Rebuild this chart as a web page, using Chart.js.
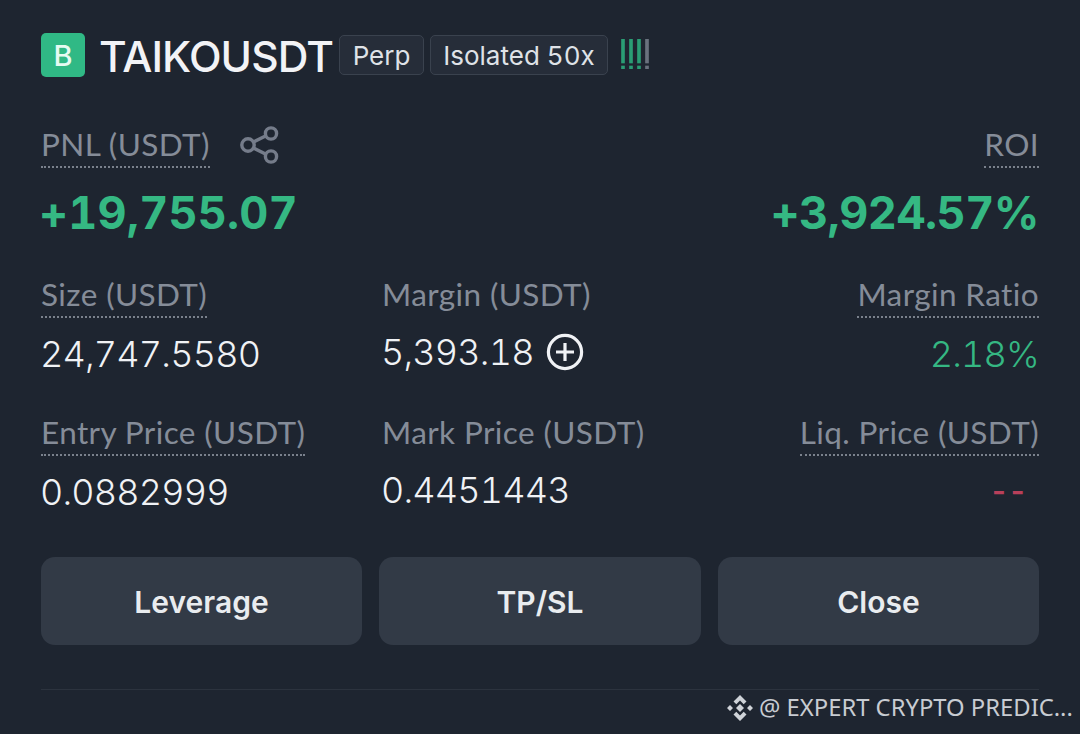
<!DOCTYPE html>
<html><head><meta charset="utf-8">
<script src="https://cdn.jsdelivr.net/npm/chart.js@4"></script>
<style>
html,body{margin:0;padding:0;width:1080px;height:734px;overflow:hidden;background:#1e2530;font-family:Inter,"Noto Sans",sans-serif;font-feature-settings:"tnum" 1}
.t{position:absolute;white-space:nowrap;line-height:1}
.lab{color:#858c98;font-size:31.500px;font-family:Lato,Inter,sans-serif;font-weight:400;letter-spacing:.4px;padding-bottom:5px;border-bottom:2px dotted #7a818c}
.val{color:#f0f2f5;font-size:36px;font-weight:300;letter-spacing:-.8px}
.box{position:absolute;box-sizing:border-box}
.btn{position:absolute;top:557px;height:88px;padding-top:2px;box-sizing:border-box;background:#323a46;border-radius:14px;color:#e9ecef;font-size:30px;font-weight:600;display:flex;align-items:center;justify-content:center}
.tag{position:absolute;top:35px;height:40px;box-sizing:border-box;background:#262d39;border:1px solid #3a424e;border-radius:5px;color:#dfe2e7;font-size:26px;display:flex;align-items:center;justify-content:center}
</style></head><body>
<div class="box" style="left:41px;top:33px;width:44px;height:44px;background:#30b985;border-radius:5px;color:#e6fbf2;font-size:29px;font-weight:500;display:flex;align-items:center;justify-content:center" id="side"></div>
<div class="t" id="sym" style="left:99px;top:36px;font-size:42.500px;font-weight:500;color:#f2f3f6;letter-spacing:-.9px"></div>
<div class="tag" id="tag0" style="left:339px;width:85px"></div>
<div class="tag" id="tag1" style="left:430px;width:178px"></div>
<div class="box" style="left:619px;top:39px;width:32px;height:30px"><canvas id="adl" width="32" height="30"></canvas></div>

<div class="t lab" id="pnlL" style="left:41px;top:129px"></div>
<svg class="box" style="left:239px;top:126px" width="40" height="38" viewBox="0 0 40 38" fill="none" stroke="#757c8a" stroke-width="3.4"><circle cx="9" cy="19" r="6.2"/><circle cx="32" cy="7.5" r="5.6"/><circle cx="32" cy="30.5" r="5.6"/><path d="M14.5 16 L27 9.8 M14.5 22 L27 28.2"/></svg>
<div class="t lab" id="roiL" style="right:41px;top:129px"></div>
<div class="t" id="pnl" style="left:39px;top:190px;font-size:45px;font-weight:700;color:#35b883;letter-spacing:.2px"></div>
<div class="t" id="roi" style="right:41px;top:190px;font-size:45px;font-weight:700;color:#35b883;letter-spacing:-.5px"></div>

<div class="t lab" id="l0" style="left:41px;top:279px"></div>
<div class="t lab" id="l1" style="left:382px;top:279px;border-bottom:0"></div>
<div class="t lab" id="l2" style="right:41px;top:279px"></div>
<div class="t val" id="v0" style="left:40px;top:336px"></div>
<div class="t val" id="v1" style="left:381px;top:334px"></div>
<svg class="box" style="left:546px;top:333px" width="38" height="38" fill="none" stroke="#f0f2f5" stroke-width="3.2"><circle cx="19" cy="19" r="16.6"/><path d="M10 19H28M19 10V28"/></svg>
<div class="t val" id="v2" style="right:41px;top:336px;color:#35b883"></div>

<div class="t lab" id="l3" style="left:41px;top:417px"></div>
<div class="t lab" id="l4" style="left:382px;top:417px;border-bottom:0"></div>
<div class="t lab" id="l5" style="right:41px;top:417px"></div>
<div class="t val" id="v3" style="left:40px;top:474px"></div>
<div class="t val" id="v4" style="left:381px;top:472px"></div>
<div class="t val" id="v5" style="right:53px;top:476px;color:#b8405a;font-size:30px;font-weight:600;letter-spacing:-.5px"></div>

<div class="btn" id="b0" style="left:41px;width:321px"></div>
<div class="btn" id="b1" style="left:379px;width:322px"></div>
<div class="btn" id="b2" style="left:718px;width:321px"></div>

<div class="box" style="left:41px;top:689px;width:998px;height:1px;background:#2c333e"></div>
<svg class="box" style="left:726px;top:694px" width="28" height="28" viewBox="0 0 28 28" fill="#cfd3d8"><path d="M14 1l6.500 6.500-2.800 2.800L14 6.600l-3.700 3.700-2.800-2.800zM14 27l-6.500-6.500 2.800-2.800 3.700 3.700 3.700-3.700 2.800 2.800zM1 14l3-3 3 3-3 3zM21 14l3-3 3 3-3 3zM14 10l4 4-4 4-4-4z"/></svg>
<div class="t" id="mark" style="left:759px;top:696px;font-size:23.800px;font-family:'Noto Sans',sans-serif;color:#c8ccd2"></div>

<script>
const symbol="TAIKOUSDT", sideLetter="B";
const tags=["Perp","Isolated 50x"];
const pnlLabel="PNL (USDT)", roiLabel="ROI";
const pnlValue="+19,755.07", roiValue="+3,924.57%";
const fieldLabels=["Size (USDT)","Margin (USDT)","Margin Ratio","Entry Price (USDT)","Mark Price (USDT)","Liq. Price (USDT)"];
const fieldValues=["24,747.5580","5,393.18","2.18%","0.0882999","0.4451443","--"];
const buttons=["Leverage","TP/SL","Close"];
const watermark="@ EXPERT CRYPTO PREDIC...";
const adlSlots=["1","2","3","4"];
const adlDot=[3,3,3,3];
const adlGap=[3,3,3,3];
const adlBar=[24,24,24,24];
const adlColors=["#2a9d74","#2a9d74","#2a9d74","#6a727e"];

const set=(id,s)=>document.getElementById(id).textContent=s;
set("side",sideLetter);set("sym",symbol);set("tag0",tags[0]);set("tag1",tags[1]);
set("pnlL",pnlLabel);set("roiL",roiLabel);set("pnl",pnlValue);set("roi",roiValue);
fieldLabels.forEach((s,i)=>set("l"+i,s));
fieldValues.forEach((s,i)=>set("v"+i,s));
buttons.forEach((s,i)=>set("b"+i,s));
set("mark",watermark);

new Chart(document.getElementById("adl"),{
  type:"bar",
  data:{labels:adlSlots,datasets:[
    {data:adlDot,backgroundColor:adlColors,stack:"s"},
    {data:adlGap,backgroundColor:"transparent",stack:"s"},
    {data:adlBar,backgroundColor:adlColors,stack:"s"}
  ]},
  options:{responsive:false,animation:false,
    layout:{padding:0},
    datasets:{bar:{barThickness:3,borderWidth:0}},
    plugins:{legend:{display:false},tooltip:{enabled:false}},
    scales:{x:{display:false,stacked:true},y:{display:false,stacked:true,min:0,max:30}}
  }
});
</script>
</body></html>
